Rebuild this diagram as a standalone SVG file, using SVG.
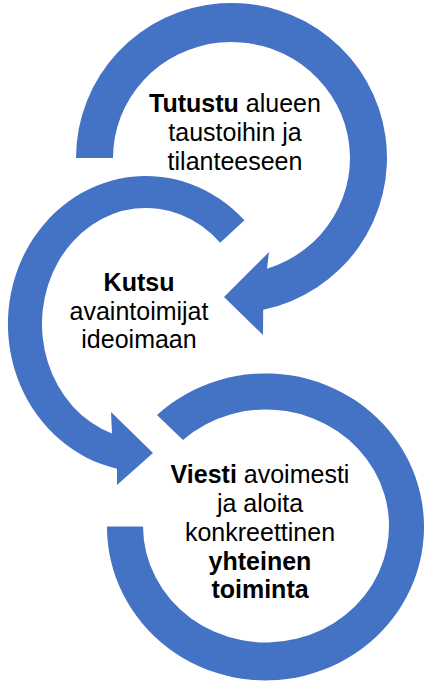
<svg xmlns="http://www.w3.org/2000/svg" width="424" height="683" viewBox="0 0 424 683">
  <style>
    .arrow { fill: #4472C4; stroke: none; }
    .lbl { font-family: "Liberation Sans", Arial, sans-serif; font-size: 25px; fill: #000000; text-anchor: middle; }
    .b { font-weight: bold; }
  </style>
  <rect width="424" height="683" fill="#ffffff"/>
  <g id="connectors"></g>
  <g id="node-1">
    <path class="arrow" d="M76,158 A155.5,155 0 1 1 263.2,309.7 L263,335 L224,297 L269,252 L267,268.7 A118.5,116 0 1 0 113,158 Z"/>
    <text class="lbl" x="235" y="111.7"><tspan class="b">Tutustu</tspan> alueen</text>
    <text class="lbl" x="235" y="141">taustoihin ja</text>
    <text class="lbl" x="235" y="170">tilanteeseen</text>
  </g>
  <g id="node-2">
    <path class="arrow" d="M244.4,220.3 A138,148 0 1 0 117,468.7 L117,485 L153,453 L111,412 L112,433.6 A104,116 0 1 1 220.2,242.7 Z"/>
    <text class="lbl b" x="139" y="291">Kutsu</text>
    <text class="lbl" x="139" y="320">avaintoimijat</text>
    <text class="lbl" x="139" y="348.3">ideoimaan</text>
  </g>
  <g id="node-3">
    <path class="arrow" d="M107,526.5 A158.5,153.5 0 1 0 157,415 L183,440 A123,116.5 0 1 1 143,526.5 Z"/>
    <text class="lbl" x="260" y="483.3"><tspan class="b">Viesti</tspan> avoimesti</text>
    <text class="lbl" x="260" y="512">ja aloita</text>
    <text class="lbl" x="260" y="541">konkreettinen</text>
    <text class="lbl b" x="260" y="569.5">yhteinen</text>
    <text class="lbl b" x="260" y="598">toiminta</text>
  </g>
</svg>
